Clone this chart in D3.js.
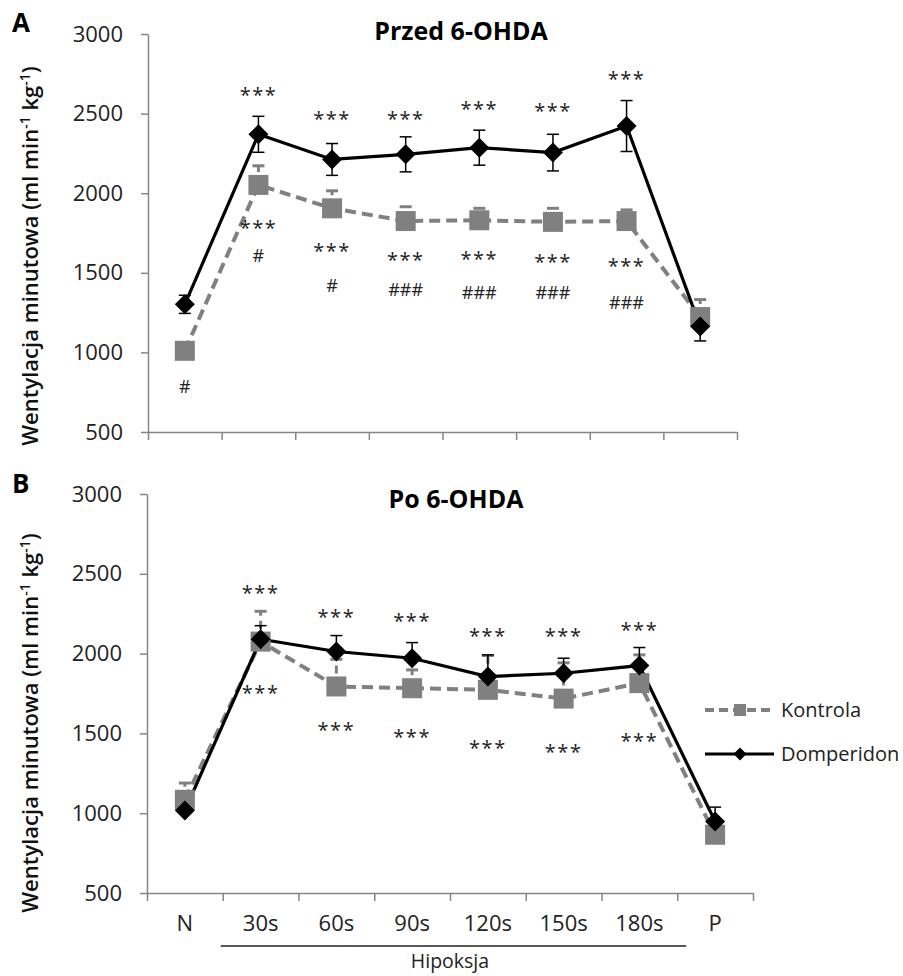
<!DOCTYPE html>
<html>
<head>
<meta charset="utf-8">
<script src="https://cdn.jsdelivr.net/npm/d3@7"></script>
<style>
  body { margin: 0; background: #fff; }
  svg text { font-family: "Open Sans", sans-serif; }
</style>
</head>
<body>
<svg id="chart"></svg>
<script>
const categories = ["N", "30s", "60s", "90s", "120s", "150s", "180s", "P"];
const yTicks = [500, 1000, 1500, 2000, 2500, 3000];
const seriesNames = ["Kontrola", "Domperidon"];

// A - przed 6-OHDA
const kontrolaA = [1010, 2052, 1905, 1825, 1830, 1820, 1825, 1222];
const kontrolaAerr = [15, 120, 110, 90, 75, 85, 70, 110];
const domperidonA = [1302, 2370, 2212, 2244, 2286, 2255, 2422, 1162];
const domperidonAerr = [57, 113, 100, 110, 110, 115, 160, 90];
const starsTopA = [null, 2648, 2502, 2502, 2560, 2552, 2749, null];
const starsBottomA = [null, 1815, 1668, 1612, 1618, 1601, 1576, null];
const hashLabelsA = ["#", "#", "#", "###", "###", "###", "###", null];
const hashValuesA = [785, 1606, 1423, 1392, 1378, 1378, 1315, null];

// B - po 6-OHDA
const kontrolaB = [1084, 2075, 1794, 1783, 1773, 1718, 1815, 865];
const kontrolaBerr = [105, 190, 170, 115, 215, 224, 177, 40];
const domperidonB = [1017, 2090, 2013, 1971, 1856, 1877, 1925, 948];
const domperidonBerr = [30, 85, 100, 98, 136, 94, 113, 90];
const starsTopB = [null, 2416, 2263, 2238, 2144, 2144, 2180, null];
const starsBottomB = [null, 1790, 1554, 1512, 1443, 1418, 1485, null];

const width = 903;
const height = 976;
const grey = "#808080";
const axisColor = "#868686";

const svg = d3.select("#chart")
  .attr("width", width)
  .attr("height", height);

const diamond = (r) => `M0,${-r}L${r},0L0,${r}L${-r},0Z`;

function drawPanel(opts) {
  const x = d3.scaleBand()
    .domain(categories)
    .range([opts.left, opts.right]);

  const y = d3.scaleLinear()
    .domain([500, 3000])
    .range([opts.bottom, opts.top]);

  const g = svg.append("g");

  // y axis
  const yAxis = g.append("g")
    .attr("transform", `translate(${opts.left},0)`)
    .call(d3.axisLeft(y).tickValues(yTicks).tickFormat(d3.format("d")).tickSize(7).tickSizeOuter(0).tickPadding(18));
  yAxis.selectAll("text").attr("font-size", 22).attr("fill", "#222").style("font-family", "Open Sans");
  yAxis.selectAll("line, path").attr("stroke", axisColor).attr("stroke-width", 1.5);

  // x axis - ticks on category boundaries
  const bounds = d3.scaleLinear().domain([0, categories.length]).range([opts.left, opts.right]);
  const xAxis = g.append("g")
    .attr("transform", `translate(0,${opts.bottom})`)
    .call(d3.axisBottom(bounds).tickValues(d3.range(categories.length + 1)).tickSize(8).tickSizeOuter(0).tickFormat(""));
  xAxis.selectAll("line, path").attr("stroke", axisColor).attr("stroke-width", 1.5);

  if (opts.labels) {
    const lab = g.append("g")
      .attr("transform", `translate(0,${opts.bottom})`)
      .call(d3.axisBottom(x).tickSize(0).tickPadding(22));
    lab.select(".domain").remove();
    lab.selectAll("text").attr("font-size", 22).attr("fill", "#222").style("font-family", "Open Sans");
  }

  const series = [
    { vals: opts.kontrola, err: opts.kontrolaErr, both: false },
    { vals: opts.domperidon, err: opts.domperidonErr, both: opts.bothDomp }
  ];

  const cx = (i) => x(categories[i]) + x.bandwidth() / 2;

  const line = d3.line()
    .x((d, i) => cx(i))
    .y((d) => y(d));

  // lines
  g.append("path")
    .datum(series[0].vals)
    .attr("d", line)
    .attr("fill", "none")
    .attr("stroke", grey)
    .attr("stroke-width", 4)
    .attr("stroke-dasharray", "11,6");

  g.append("path")
    .datum(series[1].vals)
    .attr("d", line)
    .attr("fill", "none")
    .attr("stroke", "#000")
    .attr("stroke-width", 3.2);

  // error bars
  series.forEach((s, k) => {
    const eg = g.append("g");
    s.vals.forEach((v, i) => {
      const hi = y(v + s.err[i]);
      const lo = s.both ? y(v - s.err[i]) : y(v);
      eg.append("line")
        .attr("x1", cx(i)).attr("x2", cx(i))
        .attr("y1", lo).attr("y2", hi)
        .attr("stroke", k === 0 ? grey : "#000")
        .attr("stroke-width", k === 0 ? 3 : 1.5)
        .attr("stroke-dasharray", k === 0 ? "8,5" : null);
      const caps = s.both ? [hi, lo] : [hi];
      caps.forEach((cy) => {
        eg.append("line")
          .attr("x1", cx(i) - 6).attr("x2", cx(i) + 6)
          .attr("y1", cy).attr("y2", cy)
          .attr("stroke", k === 0 ? grey : "#000")
          .attr("stroke-width", k === 0 ? 3 : 1.5);
      });
    });
  });

  // markers
  g.append("g").selectAll("rect")
    .data(series[0].vals)
    .join("rect")
    .attr("x", (d, i) => cx(i) - 10)
    .attr("y", (d) => y(d) - 10)
    .attr("width", 20)
    .attr("height", 20)
    .attr("fill", grey);

  g.append("g").selectAll("path")
    .data(series[1].vals)
    .join("path")
    .attr("transform", (d, i) => `translate(${cx(i)},${y(d)})`)
    .attr("d", diamond(10))
    .attr("fill", "#000");

  // significance marks
  const marks = g.append("g").attr("fill", "#222").attr("text-anchor", "middle");
  [opts.starsTop, opts.starsBottom].forEach((arr) => {
    arr.forEach((v, i) => {
      if (v == null) return;
      marks.append("text")
        .attr("x", cx(i))
        .attr("y", y(v))
        .attr("dy", "0.62em")
        .attr("font-size", 20)
        .attr("letter-spacing", 1.5)
        .text("***");
    });
  });
  if (opts.hashLabels) {
    opts.hashLabels.forEach((t, i) => {
      if (t == null) return;
      marks.append("text")
        .attr("x", cx(i))
        .attr("y", y(opts.hashValues[i]))
        .attr("dy", "0.36em")
        .attr("font-size", 18)
        .text(t);
    });
  }

  // title + panel letter
  g.append("text")
    .attr("x", opts.titleX)
    .attr("y", opts.titleY)
    .attr("text-anchor", "middle")
    .attr("font-size", 25)
    .attr("font-weight", "bold")
    .text(opts.title);

  g.append("text")
    .attr("x", 12)
    .attr("y", opts.letterY)
    .attr("font-size", 26)
    .attr("font-weight", "bold")
    .text(opts.letter);

  // y axis title
  const yt = g.append("text")
    .attr("transform", `translate(38,${opts.labelCenter}) rotate(-90)`)
    .attr("text-anchor", "middle")
    .attr("font-size", 22)
    .attr("font-weight", 600)
    .attr("fill", "#111");
  yt.append("tspan").text("Wentylacja minutowa (ml min");
  yt.append("tspan").attr("dy", -8).attr("font-size", 14).text("-1");
  yt.append("tspan").attr("dy", 8).text(" kg");
  yt.append("tspan").attr("dy", -8).attr("font-size", 14).text("-1");
  yt.append("tspan").attr("dy", 8).text(")");

  return { x, y };
}

drawPanel({
  left: 148, right: 737, top: 34, bottom: 432,
  kontrola: kontrolaA, kontrolaErr: kontrolaAerr,
  domperidon: domperidonA, domperidonErr: domperidonAerr,
  bothDomp: true,
  starsTop: starsTopA, starsBottom: starsBottomA,
  hashLabels: hashLabelsA, hashValues: hashValuesA,
  title: "Przed 6-OHDA", titleX: 461, titleY: 40,
  letter: "A", letterY: 32, labelCenter: 256,
  labels: false
});

const B = drawPanel({
  left: 147, right: 753, top: 494, bottom: 893,
  kontrola: kontrolaB, kontrolaErr: kontrolaBerr,
  domperidon: domperidonB, domperidonErr: domperidonBerr,
  bothDomp: false,
  starsTop: starsTopB, starsBottom: starsBottomB,
  title: "Po 6-OHDA", titleX: 456, titleY: 508,
  letter: "B", letterY: 493, labelCenter: 723,
  labels: true
});

// Hipoksja bracket
const step = B.x.step();
svg.append("line")
  .attr("x1", B.x("30s") - 2)
  .attr("x2", B.x("180s") + step + 9)
  .attr("y1", 946).attr("y2", 946)
  .attr("stroke", "#222")
  .attr("stroke-width", 1.5);

svg.append("text")
  .attr("x", (B.x("30s") + B.x("180s") + step) / 2)
  .attr("y", 968)
  .attr("text-anchor", "middle")
  .attr("font-size", 19.5)
  .attr("fill", "#222")
  .text("Hipoksja");

// legend
const legend = svg.append("g").attr("transform", "translate(705,710)");
const items = legend.selectAll("g")
  .data(seriesNames)
  .join("g")
  .attr("transform", (d, i) => `translate(0,${i * 44})`);

items.append("line")
  .attr("x1", 0).attr("x2", 69)
  .attr("stroke", (d, i) => i === 0 ? grey : "#000")
  .attr("stroke-width", (d, i) => i === 0 ? 4 : 3)
  .attr("stroke-dasharray", (d, i) => i === 0 ? "9,5" : null);

items.each(function (d, i) {
  const it = d3.select(this);
  if (i === 0) {
    it.append("rect").attr("x", 29).attr("y", -6).attr("width", 12).attr("height", 12).attr("fill", grey);
  } else {
    it.append("path").attr("transform", "translate(35,0)").attr("d", diamond(6.5)).attr("fill", "#000");
  }
});

items.append("text")
  .attr("x", 76)
  .attr("y", 7)
  .attr("font-size", 20)
  .attr("fill", "#222")
  .text((d) => d);
</script>
</body>
</html>
